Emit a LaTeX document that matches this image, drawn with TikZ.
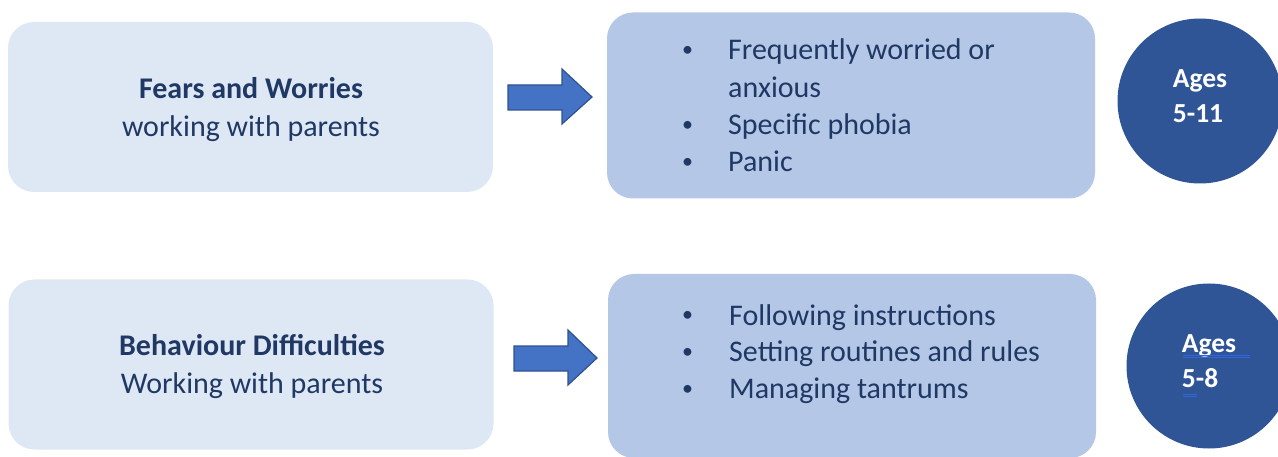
\documentclass[tikz,border=0pt]{standalone}
\usepackage{fontspec}
\setmainfont{Carlito}
\definecolor{lightbox}{HTML}{DEE8F5}
\definecolor{midbox}{HTML}{B4C7E7}
\definecolor{circ}{HTML}{2F5597}
\definecolor{arrowfill}{HTML}{4472C4}
\definecolor{arrowedge}{HTML}{2F528F}
\definecolor{txt}{HTML}{1F3864}
\definecolor{squig}{HTML}{3366DD}
\begin{document}
\begin{tikzpicture}[x=1pt,y=-1pt,
  leftbox/.style={rounded corners=26pt,fill=lightbox,draw=none,minimum width=485pt,minimum height=170pt},
  lefttxt/.style={align=center,text=txt,font=\fontsize{30}{38}\selectfont},
  rightbox/.style={rounded corners=26pt,fill=midbox,draw=none,minimum width=488pt,minimum height=186pt},
  agecirc/.style={circle,fill=circ,draw=none,minimum size=165pt,inner sep=0pt},
  agetxt/.style={text=white,font=\fontsize{27.5}{35}\selectfont\bfseries,align=left},
  bul/.style={text=txt,font=\fontsize{30}{30}\selectfont,anchor=base west,inner sep=0pt},
  dot/.style={text=txt,font=\fontsize{22}{22}\selectfont,anchor=base west,inner sep=0pt},
  blockarrow/.style={fill=arrowfill,draw=arrowedge,line width=1.2pt,line join=miter}]
\useasboundingbox (0,0) rectangle (1278,457);
\fill[white] (0,0) rectangle (1278,457);
% top row
\node[leftbox] (b1) at (250.5,107) {};
\node[lefttxt] (b1t) at (251,110) {\textbf{Fears and Worries}\\working with parents};
\node[rightbox] (r1) at (851,105.5) {};
\node[agecirc] (c1) at (1200,101) {};
\node[agetxt] (t1) at (1200,96) {Ages\\5-11};
\node[dot] (r1b1) at (682,57) {•};
\node[bul] (r1l1) at (728,60) {Frequently worried or};
\node[bul] (r1l2) at (728,98) {anxious};
\node[dot] (r1b3) at (682,132) {•};
\node[bul] (r1l3) at (728,135) {Specific phobia};
\node[dot] (r1b4) at (682,169) {•};
\node[bul] (r1l4) at (728,172) {Panic};
\draw[blockarrow] (508,85) -- (562,85) -- (562,69) -- (592,97) -- (562,124) -- (562,110) -- (508,110) -- cycle;
% bottom row
\node[leftbox] (b2) at (251,364.5) {};
\node[lefttxt] (b2t) at (252,367) {\textbf{Behaviour Difficulties}\\Working with parents};
\node[rightbox,minimum height=184pt] (r2) at (852,366) {};
\node[agecirc] (c2) at (1209,366) {};
\node[agetxt] (t2) at (1209,361) {Ages\\5-8};
\node[dot] (r2b1) at (682,322) {•};
\node[bul] (r2l1) at (729,325) {Following instructions};
\node[dot] (r2b2) at (682,358) {•};
\node[bul] (r2l2) at (729,361) {Setting routines and rules};
\node[dot] (r2b3) at (682,395) {•};
\node[bul] (r2l3) at (729,398) {Managing tantrums};
\draw[blockarrow] (514,346) -- (568,346) -- (568,330) -- (597,358) -- (568,385) -- (568,371) -- (514,371) -- cycle;
% spelling marks under Ages 5-8
\draw[squig,line width=0.6pt] (1183,355) -- (1250,355) (1183,357.5) -- (1250,357.5);
\draw[squig,line width=0.6pt] (1183,394) -- (1197,394) (1183,396.5) -- (1197,396.5);
\end{tikzpicture}
\end{document}
